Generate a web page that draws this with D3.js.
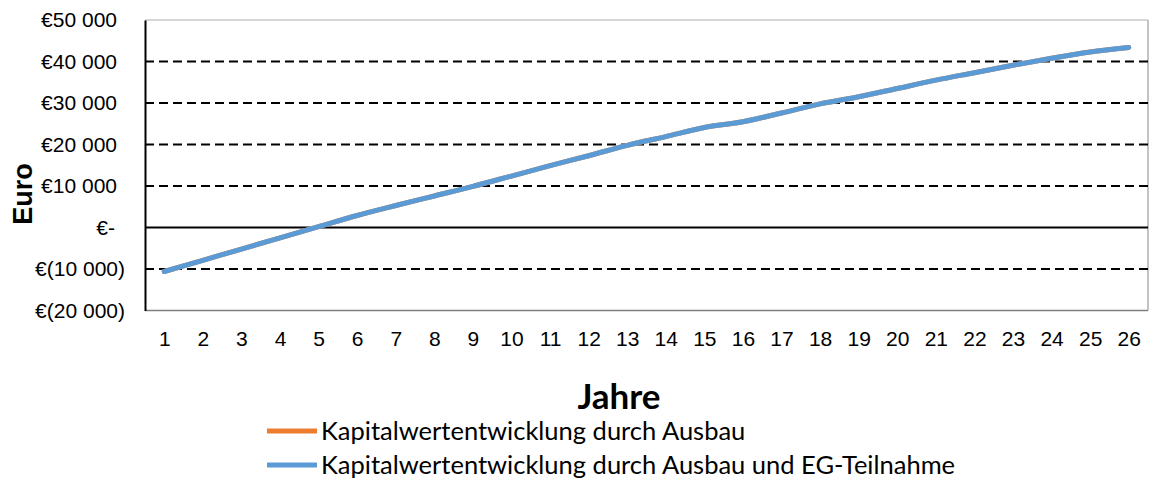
<!DOCTYPE html>
<html>
<head>
<meta charset="utf-8">
<script src="https://cdn.jsdelivr.net/npm/d3@7"></script>
<style>
  html, body { margin: 0; padding: 0; background: #fff; }
  svg { display: block; }
</style>
</head>
<body>
<svg id="chart" width="1150" height="480"></svg>
<script>
// Years on the horizontal axis
const years = [1, 2, 3, 4, 5, 6, 7, 8, 9, 10, 11, 12, 13, 14, 15, 16, 17, 18, 19, 20, 21, 22, 23, 24, 25, 26];

// Net present value development, expansion only
const ausbau = [-10600, -7900, -5200, -2500, 200, 2900, 5300, 7600, 9900, 12400, 14900, 17300, 19800,
                21900, 24100, 25500, 27600, 29800, 31500, 33500, 35500, 37300, 39100, 40800, 42300, 43400];

// Net present value development, expansion plus energy community participation
const ausbauEG = [-10600, -7900, -5200, -2500, 200, 2900, 5300, 7600, 9900, 12400, 14900, 17300, 19800,
                  21900, 24100, 25500, 27600, 29800, 31500, 33500, 35500, 37300, 39100, 40800, 42300, 43400];

// Value axis ticks and their accounting-style labels
const yTicks = [50000, 40000, 30000, 20000, 10000, 0, -10000, -20000];
const yTickLabels = ["€50 000", "€40 000", "€30 000", "€20 000", "€10 000", "€-", "€(10 000)", "€(20 000)"];

const seriesNames = ["Kapitalwertentwicklung durch Ausbau", "Kapitalwertentwicklung durch Ausbau und EG-Teilnahme"];
const seriesColors = ["#ED7D31", "#5B9BD5"];

const svg = d3.select("#chart");
const plot = { left: 145, right: 1148, top: 20, bottom: 310.5 };

const x = d3.scalePoint().domain(years).range([plot.left, plot.right]).padding(0.5);
const y = d3.scaleLinear().domain([-20000, 50000]).range([plot.bottom, plot.top]);

// Plot frame (top, right, bottom)
svg.append("line").attr("x1", plot.left).attr("x2", plot.right).attr("y1", plot.top).attr("y2", plot.top)
  .attr("stroke", "#c8c8c8").attr("stroke-width", 1.5);
svg.append("line").attr("x1", plot.right).attr("x2", plot.right).attr("y1", plot.top).attr("y2", plot.bottom)
  .attr("stroke", "#b0b0b0").attr("stroke-width", 1.5);
svg.append("line").attr("x1", plot.left).attr("x2", plot.right).attr("y1", plot.bottom).attr("y2", plot.bottom)
  .attr("stroke", "#7f7f7f").attr("stroke-width", 1.5);

// Dashed horizontal gridlines
svg.append("g").selectAll("line")
  .data(yTicks.filter(v => v !== 0 && v !== 50000 && v !== -20000))
  .join("line")
  .attr("x1", plot.left).attr("x2", plot.right)
  .attr("y1", d => y(d)).attr("y2", d => y(d))
  .attr("stroke", "#000").attr("stroke-width", 2).attr("stroke-dasharray", "9,5");

// Zero line
svg.append("line").attr("x1", plot.left).attr("x2", plot.right).attr("y1", y(0)).attr("y2", y(0))
  .attr("stroke", "#000").attr("stroke-width", 1.8);

// Value axis
const yAxis = d3.axisLeft(y).tickValues(yTicks).tickSize(0).tickPadding(0)
  .tickFormat((d, i) => yTickLabels[i]);
const gy = svg.append("g").attr("transform", `translate(${plot.left},0)`).call(yAxis);
gy.select(".domain").attr("stroke", "#000").attr("stroke-width", 2);
gy.selectAll("text")
  .attr("font-family", "Liberation Sans, Arial, sans-serif")
  .attr("font-size", 21).attr("fill", "#000")
  .attr("x", (d, i) => yTickLabels[i].endsWith(")") ? -20 : (d === 0 ? -30 : -28));

// Category axis labels
const xAxis = d3.axisBottom(x).tickSize(0).tickPadding(0);
const gx = svg.append("g").attr("transform", `translate(0,${plot.bottom})`).call(xAxis);
gx.select(".domain").remove();
gx.selectAll("text")
  .attr("font-family", "Liberation Sans, Arial, sans-serif")
  .attr("font-size", 21).attr("fill", "#000").attr("y", 21);

// Series lines (orange first, blue drawn above)
const line = d3.line()
  .x((d, i) => x(years[i]))
  .y(d => y(d))
  .curve(d3.curveMonotoneX);

[ausbau, ausbauEG].forEach((vals, k) => {
  svg.append("path").datum(vals)
    .attr("d", line)
    .attr("fill", "none")
    .attr("stroke", seriesColors[k])
    .attr("stroke-width", 5)
    .attr("stroke-linecap", "round")
    .attr("stroke-linejoin", "round");
});

// Axis titles
svg.append("text")
  .attr("transform", "translate(32,194) rotate(-90)")
  .attr("text-anchor", "middle")
  .attr("font-family", "Liberation Sans, Arial, sans-serif")
  .attr("font-weight", "bold").attr("font-size", 27).attr("fill", "#000")
  .text("Euro");

svg.append("text")
  .attr("x", 619).attr("y", 409)
  .attr("text-anchor", "middle")
  .attr("font-family", "Lato, sans-serif")
  .attr("font-weight", "bold").attr("font-size", 35).attr("fill", "#000")
  .text("Jahre");

// Legend
const legend = svg.append("g");
seriesNames.forEach((name, k) => {
  const ly = 431 + k * 34;
  legend.append("line")
    .attr("x1", 267).attr("x2", 317).attr("y1", ly).attr("y2", ly)
    .attr("stroke", seriesColors[k]).attr("stroke-width", 5);
  legend.append("text")
    .attr("x", 321).attr("y", ly + 8.5)
    .attr("font-family", "Lato, sans-serif")
    .attr("font-size", 25.5).attr("fill", "#000")
    .text(name);
});
</script>
</body>
</html>
